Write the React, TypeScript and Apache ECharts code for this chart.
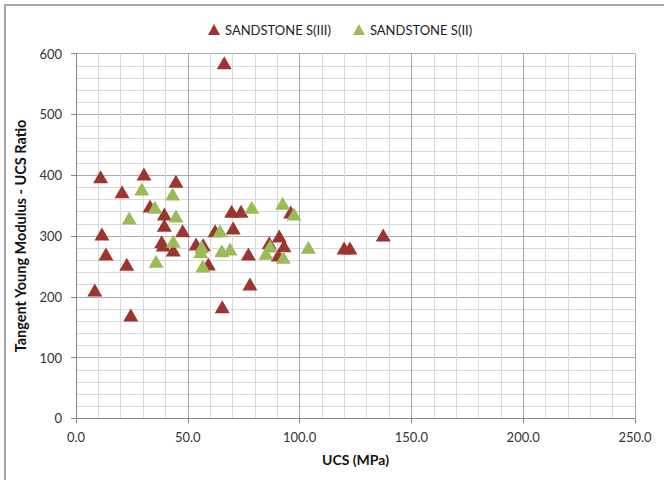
import React, { useEffect, useRef } from "react";
import * as echarts from "echarts";

const seriesNames = ["SANDSTONE S(III)", "SANDSTONE S(II)"];

const s3Ucs = [11.0, 11.6, 13.4, 8.4, 20.6, 22.7, 24.5, 30.4, 33.1, 38.3, 39.0, 39.5, 39.5, 43.5, 44.7, 47.7, 53.7, 56.9, 59.2, 62.2, 66.3, 65.4, 69.6, 73.8, 70.3, 77.1, 77.8, 86.4, 90.5, 90.9, 93.0, 96.0, 119.9, 122.5, 137.4];
const s3Ratio = [397.5, 303.3, 270.4, 211.2, 372.9, 253.5, 170.1, 402, 349.3, 290.6, 285, 336.2, 317.6, 277, 390, 308.7, 286.8, 285.7, 254, 308.7, 585, 183.7, 340.6, 340.6, 313.2, 270.4, 221.1, 289, 268.8, 300, 284, 339.5, 280.3, 280.3, 301.6];

const s2Ucs = [23.8, 29.4, 35.3, 35.8, 43.2, 44.7, 43.5, 55.8, 56.2, 56.7, 64.4, 65.2, 68.9, 78.6, 85.0, 86.8, 92.4, 92.7, 97.5, 103.9];
const s2Ratio = [329.6, 377.3, 347.2, 258.4, 369.1, 332.9, 291.3, 274.2, 282.4, 250.7, 308.7, 275.8, 278.6, 347.2, 271.5, 283.6, 353.8, 265, 336.2, 281.4];

const xTicks = { min: 0, max: 250, interval: 50 };
const yTicks = { min: 0, max: 600, interval: 100 };

const FONT = "Lato, 'Liberation Sans', sans-serif";

export default function App() {
  const ref = useRef<HTMLDivElement>(null);
  useEffect(() => {
    if (!ref.current) return;
    const chart = echarts.init(ref.current, undefined, { renderer: "svg" });
    const pair = (xs: number[], ys: number[]) => xs.map((x, i) => [x, ys[i]]);
    chart.setOption({
      animation: false,
      backgroundColor: "#ffffff",
      textStyle: { fontFamily: FONT },
      graphic: [
        {
          type: "rect",
          shape: { x: 5, y: 5, width: 700, height: 600 },
          style: { fill: "none", stroke: "#8a8a8a", lineWidth: 1.5 },
          silent: true,
        },
      ],
      legend: {
        top: 18,
        left: 203,
        itemGap: 22,
        itemWidth: 12,
        itemHeight: 11,
        icon: "triangle",
        textStyle: { fontSize: 13, color: "#222", fontFamily: FONT },
        data: seriesNames,
      },
      grid: { left: 76, right: 29, top: 53.6, bottom: 61.6, containLabel: false },
      xAxis: {
        type: "value",
        min: xTicks.min,
        max: xTicks.max,
        interval: xTicks.interval,
        name: "UCS (MPa)",
        nameLocation: "middle",
        nameGap: 34,
        nameTextStyle: { fontWeight: "bold", fontSize: 14, color: "#111", fontFamily: FONT },
        axisLine: { show: true, lineStyle: { color: "#868686" } },
        axisTick: { show: true, length: 5, lineStyle: { color: "#868686" } },
        axisLabel: {
          margin: 12,
          fontSize: 13,
          color: "#333",
          formatter: (v: number) => v.toFixed(1),
        },
        splitLine: { show: true, lineStyle: { color: "#ababab" } },
        minorTick: { show: false, splitNumber: 5 },
        minorSplitLine: { show: true, lineStyle: { color: "#d9d9d9" } },
      },
      yAxis: {
        type: "value",
        min: yTicks.min,
        max: yTicks.max,
        interval: yTicks.interval,
        name: "Tangent Young Modulus - UCS Ratio",
        nameLocation: "middle",
        nameGap: 47,
        nameTextStyle: { fontWeight: "bold", fontSize: 14.5, color: "#111", fontFamily: FONT },
        axisLine: { show: true, lineStyle: { color: "#868686" } },
        axisTick: { show: true, length: 5, lineStyle: { color: "#868686" } },
        axisLabel: { margin: 14, fontSize: 13, color: "#333" },
        splitLine: { show: true, lineStyle: { color: "#ababab" } },
        minorTick: { show: false, splitNumber: 5 },
        minorSplitLine: { show: true, lineStyle: { color: "#d9d9d9" } },
      },
      series: [
        {
          name: seriesNames[0],
          type: "scatter",
          symbol: "triangle",
          symbolSize: [15, 13],
          itemStyle: { color: "#9c3431", opacity: 1 },
          data: pair(s3Ucs, s3Ratio),
        },
        {
          name: seriesNames[1],
          type: "scatter",
          symbol: "triangle",
          symbolSize: [15, 13],
          itemStyle: { color: "#9bbb59", opacity: 1 },
          data: pair(s2Ucs, s2Ratio),
        },
      ],
    });
    return () => chart.dispose();
  }, []);
  return (
    <div
      ref={ref}
      style={{ position: "absolute", left: 0, top: 0, width: 664, height: 480 }}
    />
  );
}
